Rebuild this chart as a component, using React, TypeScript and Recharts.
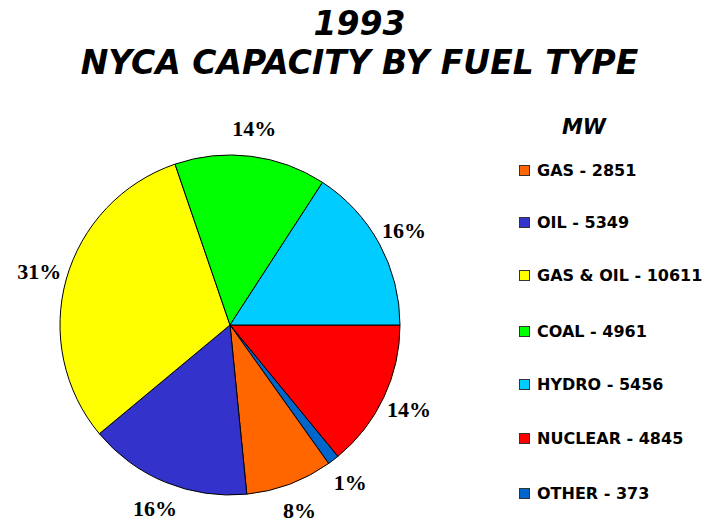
import React from "react";
import { PieChart, Pie, Cell } from "recharts";

const fuelNames = ["NUCLEAR", "OTHER", "GAS", "OIL", "GAS & OIL", "COAL", "HYDRO"];
const fuelValues = [4845, 373, 2851, 5349, 10611, 4961, 5456];
const fuelColors = ["#FF0000", "#0066CC", "#FF6600", "#3333CC", "#FFFF00", "#00FF00", "#00CCFF"];
const legendOrder = ["GAS", "OIL", "GAS & OIL", "COAL", "HYDRO", "NUCLEAR", "OTHER"];
const legendRowY = [170, 222, 275, 331, 384, 438, 493];

const data = fuelNames.map((name, i) => ({ name, value: fuelValues[i], color: fuelColors[i] }));
const total = fuelValues.reduce((a, b) => a + b, 0);

const RAD = Math.PI / 180;
const renderLabel = (props: any) => {
  const { cx, cy, midAngle, outerRadius, value } = props;
  const r = outerRadius + 28;
  const x = cx + r * Math.cos(-midAngle * RAD);
  const y = cy + r * Math.sin(-midAngle * RAD);
  return (
    <text
      x={x}
      y={y}
      textAnchor="middle"
      dominantBaseline="central"
      fontFamily="'Liberation Serif', 'Times New Roman', serif"
      fontWeight="bold"
      fontSize={22}
      fill="#000"
    >
      {`${Math.round((value / total) * 100)}%`}
    </text>
  );
};

export default function App() {
  return (
    <div style={{ position: "absolute", left: 0, top: 0, width: 711, height: 523, background: "#fff" }}>
      <div
        style={{
          position: "absolute",
          left: 4,
          top: 4,
          width: 711,
          textAlign: "center",
          fontFamily: "'DejaVu Sans', Verdana, sans-serif",
          fontWeight: "bold",
          fontStyle: "italic",
          fontSize: 33,
          lineHeight: "39px",
          color: "#000",
        }}
      >
        <div>1993</div>
        <div>NYCA CAPACITY BY FUEL TYPE</div>
      </div>
      <div style={{ position: "absolute", left: 0, top: 0 }}>
        <PieChart width={711} height={523} margin={{ top: 0, right: 0, bottom: 0, left: 0 }}>
          <Pie
            data={data}
            dataKey="value"
            nameKey="name"
            cx={230}
            cy={325}
            outerRadius={170}
            startAngle={0}
            endAngle={-360}
            stroke="#000"
            strokeWidth={1}
            label={renderLabel}
            labelLine={false}
            isAnimationActive={false}
          >
            {data.map((d) => (
              <Cell key={d.name} fill={d.color} />
            ))}
          </Pie>
        </PieChart>
      </div>
      <div
        style={{
          position: "absolute",
          left: 544,
          top: 114,
          width: 80,
          textAlign: "center",
          fontFamily: "'DejaVu Sans', Verdana, sans-serif",
          fontWeight: "bold",
          fontStyle: "italic",
          fontSize: 21,
          lineHeight: "26px",
        }}
      >
        MW
      </div>
      {legendOrder.map((name, i) => {
        const idx = fuelNames.indexOf(name);
        return (
          <div
            key={name}
            style={{
              position: "absolute",
              left: 519,
              top: legendRowY[i] - 10,
              height: 20,
              display: "flex",
              alignItems: "center",
              fontFamily: "'DejaVu Sans', Verdana, sans-serif",
              fontWeight: "bold",
              fontSize: 16,
              whiteSpace: "nowrap",
            }}
          >
            <span
              style={{
                display: "inline-block",
                width: 9,
                height: 9,
                background: fuelColors[idx],
                border: "1px solid #333",
                marginRight: 7,
              }}
            />
            <span>{`${name} - ${fuelValues[idx]}`}</span>
          </div>
        );
      })}
    </div>
  );
}
